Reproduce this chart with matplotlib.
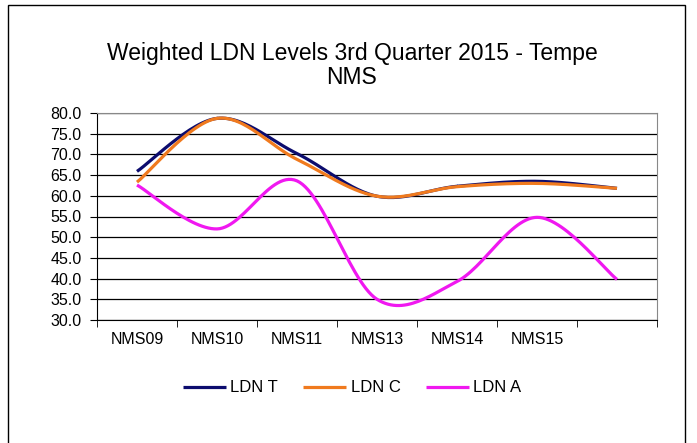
import numpy as np
import matplotlib.pyplot as plt
from matplotlib.patches import Rectangle

sites = ["NMS09", "NMS10", "NMS11", "NMS13", "NMS14", "NMS15", ""]
ldn_t = [65.9, 78.7, 70.2, 59.9, 62.3, 63.5, 61.8]
ldn_c = [63.3, 78.7, 68.8, 59.9, 62.2, 63.0, 61.8]
ldn_a = [62.6, 52.0, 63.6, 35.0, 39.3, 54.8, 39.8]

series = [("LDN T", ldn_t, "#0c0c6e"), ("LDN C", ldn_c, "#f07a1e"), ("LDN A", ldn_a, "#f018f0")]


def smooth(x, y, n=30):
    # Excel-style smoothed line (Catmull-Rom through the points)
    x = np.asarray(x, float)
    y = np.asarray(y, float)
    px = np.concatenate([[x[0]], x, [x[-1]]])
    py = np.concatenate([[y[0]], y, [y[-1]]])
    xs, ys = [], []
    t = np.linspace(0, 1, n)
    for i in range(1, len(px) - 2):
        for p, out in ((px, xs), (py, ys)):
            p0, p1, p2, p3 = p[i - 1], p[i], p[i + 1], p[i + 2]
            out.extend(0.5 * ((2 * p1) + (-p0 + p2) * t
                              + (2 * p0 - 5 * p1 + 4 * p2 - p3) * t ** 2
                              + (-p0 + 3 * p1 - 3 * p2 + p3) * t ** 3))
    return np.array(xs), np.array(ys)


plt.rcParams.update({
    "font.family": ["Liberation Sans", "DejaVu Sans"],
    "font.size": 11.5,
})

fig = plt.figure(figsize=(6.97, 4.43), dpi=100)
W, H = 697, 443
ax = fig.add_axes([97 / W, (H - 320) / H, 560 / W, 207 / H])

x = np.arange(len(sites))
for name, vals, col in series:
    sx, sy = smooth(x, vals)
    ax.plot(sx, sy, color=col, lw=2.3, label=name, solid_capstyle="butt")

ax.set_xlim(-0.5, len(sites) - 0.5)
ax.set_ylim(30, 80)
ax.set_yticks(np.arange(30, 80.1, 5))
ax.set_yticklabels([f"{v:.1f}" for v in np.arange(30, 80.1, 5)])
ax.set_xticks(x)
ax.set_xticklabels(sites)
ax.set_xticks(np.arange(-0.5, len(sites)), minor=True)
ax.tick_params(axis="x", which="major", length=0, pad=9)
ax.tick_params(axis="x", which="minor", length=5, direction="out", color="black")
ax.tick_params(axis="y", length=5, direction="out", pad=6)
ax.grid(axis="y", color="black", lw=0.9)
ax.set_axisbelow(True)
for s in ("top", "right"):
    ax.spines[s].set_color("#888888")
ax.spines["left"].set_color("black")
ax.spines["bottom"].set_color("black")

fig.text(352 / W, 1 - 60 / H, "Weighted LDN Levels 3rd Quarter 2015 - Tempe",
         ha="center", va="baseline", fontsize=16.5)
fig.text(352 / W, 1 - 84 / H, "NMS", ha="center", va="baseline", fontsize=16.5)

fig.legend(loc="center", bbox_to_anchor=(352 / W, 1 - 388 / H), ncol=3, frameon=False,
           handlelength=2.6, handletextpad=0.25, columnspacing=1.5, fontsize=12)

fig.patches.append(Rectangle((8 / W, -0.01), 677 / W, 1 - 5 / H + 0.01, transform=fig.transFigure,
                             fill=False, edgecolor="black", lw=1))

fig.savefig("out.png", dpi=100)
